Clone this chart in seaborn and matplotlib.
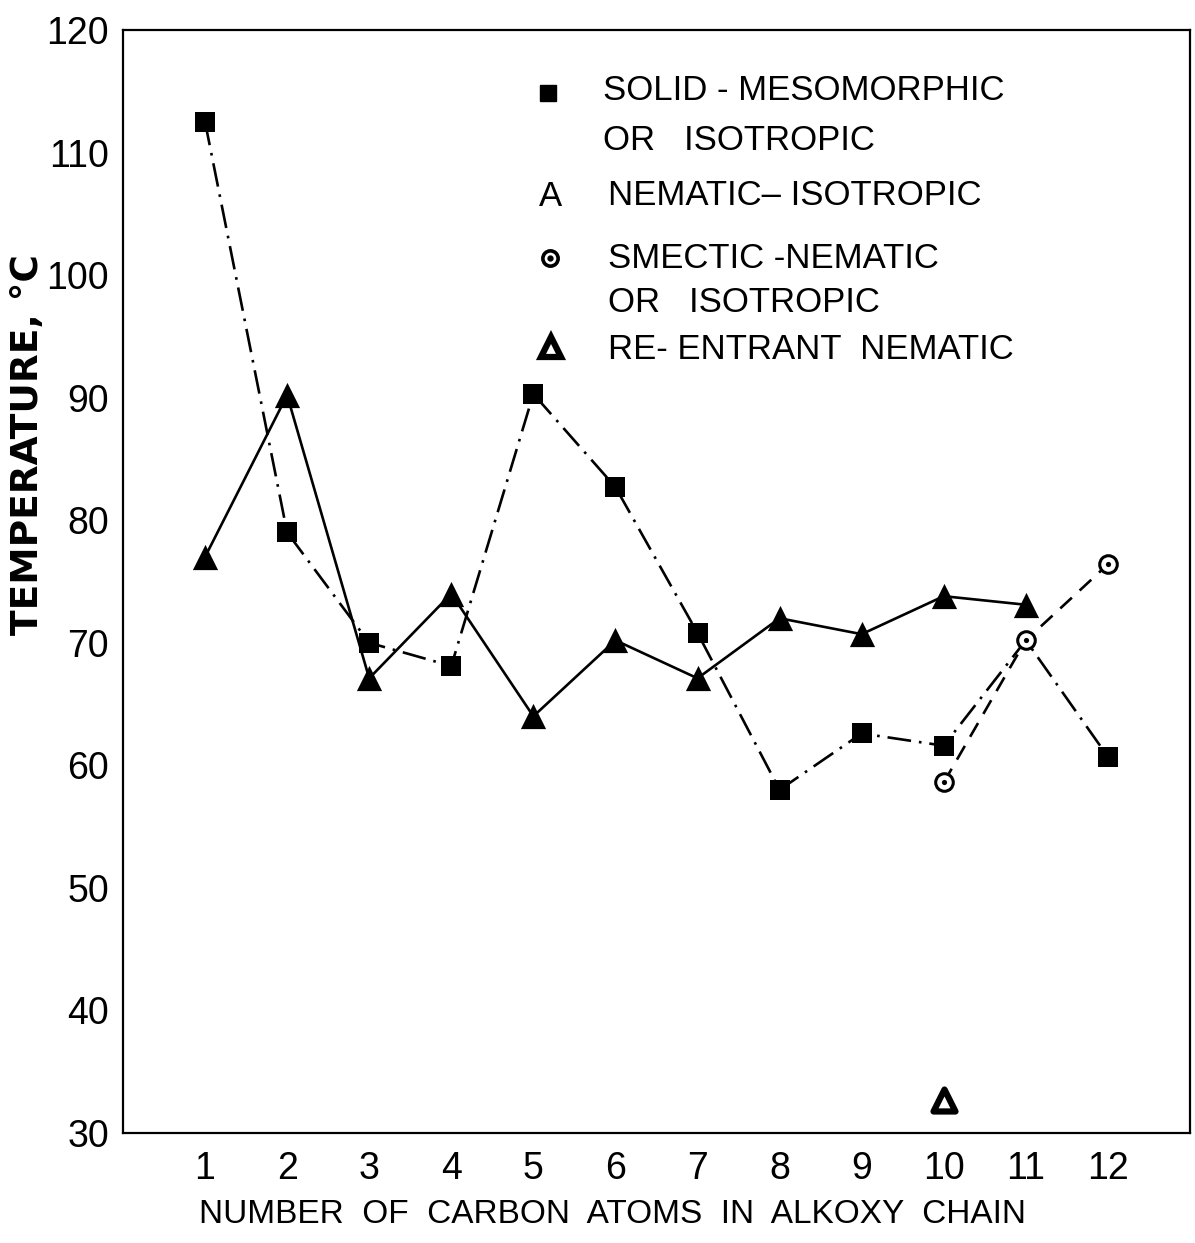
import numpy as np
import pandas as pd
import matplotlib
matplotlib.use("Agg")
import matplotlib.pyplot as plt
import seaborn as sns

# === Data ===
carbons = [1, 2, 3, 4, 5, 6, 7, 8, 9, 10, 11, 12]
solid_meso = [112.5, 79.0, 70.0, 68.1, 90.3, 82.7, 70.8, 58.0, 62.6, 61.6, 70.2, 60.7]
nem_iso_n = [1, 2, 3, 4, 5, 6, 7, 8, 9, 10, 11]
nem_iso = [77.0, 90.2, 67.1, 74.0, 64.0, 70.2, 67.1, 72.0, 70.7, 73.8, 73.1]
smectic_n = [10, 11, 12]
smectic = [58.6, 70.2, 76.4]
reentrant_n = [10]
reentrant = [32.7]
y_ticks = [30, 40, 50, 60, 70, 80, 90, 100, 110, 120]

df_solid = pd.DataFrame({"n": carbons, "T": solid_meso})
df_nem = pd.DataFrame({"n": nem_iso_n, "T": nem_iso})
df_sm = pd.DataFrame({"n": smectic_n, "T": smectic})
df_re = pd.DataFrame({"n": reentrant_n, "T": reentrant})

sns.set_theme(style="white", rc={"axes.edgecolor": "black", "text.color": "black",
                                 "xtick.color": "black", "ytick.color": "black",
                                 "axes.labelcolor": "black"})
plt.rcParams["font.family"] = ["Liberation Sans", "DejaVu Sans"]

fig = plt.figure(figsize=(11.95, 12.43), dpi=100)
ax = fig.add_axes([0.1029, 0.0885, 0.8929, 0.8874])

# === Lines ===
sns.lineplot(data=df_solid, x="n", y="T", ax=ax, color="black", linewidth=1.9,
             linestyle=(0, (9, 3, 1, 3)), estimator=None, sort=False)
sns.lineplot(data=df_nem, x="n", y="T", ax=ax, color="black", linewidth=1.9,
             estimator=None, sort=False)
sns.lineplot(data=df_sm, x="n", y="T", ax=ax, color="black", linewidth=1.9,
             linestyle=(0, (6, 4)), estimator=None, sort=False)

# === Markers (square at n=11 is hidden under the smectic circle) ===
sns.scatterplot(data=df_solid[df_solid["n"] != 11], x="n", y="T", ax=ax, marker="s",
                s=190, color="black", linewidth=0, zorder=4)
sns.scatterplot(data=df_nem, x="n", y="T", ax=ax, marker="^", s=330,
                color="black", linewidth=0, zorder=4)
sns.scatterplot(data=df_sm, x="n", y="T", ax=ax, marker="o", s=160,
                color="white", edgecolor="black", linewidth=2.2, zorder=5)
sns.scatterplot(data=df_sm, x="n", y="T", ax=ax, marker="o", s=14,
                color="black", linewidth=0, zorder=6)
sns.scatterplot(data=df_re, x="n", y="T", ax=ax, marker="^", s=250,
                color="white", edgecolor="black", linewidth=4.5, zorder=5)

# === Axes ===
ax.set_xlim(0, 13)
ax.set_ylim(30, 120)
ax.set_xticks(carbons)
ax.set_yticks(y_ticks)
ax.tick_params(axis="both", direction="in", width=1.8, labelsize=27)
ax.tick_params(axis="x", length=15, pad=13)
ax.tick_params(axis="y", length=13, pad=10)
for sp in ax.spines.values():
    sp.set_linewidth(1.6)
    sp.set_visible(True)

ax.set_xlabel("NUMBER  OF  CARBON  ATOMS  IN  ALKOXY  CHAIN", fontsize=24)
ax.xaxis.label.set_va("center")
ax.xaxis.set_label_coords(0.459, -0.074)
ax.set_ylabel("TEMPERATURE, °C", fontsize=27, fontweight="bold", family="DejaVu Sans")
ax.yaxis.label.set_va("center")
ax.yaxis.set_label_coords(-0.089, 0.624)

# === Legend block (hand placed, as in the original) ===
tr = ax.transAxes
fs = 25
ax.plot([0.398], [0.943], "s", ms=12, color="black", transform=tr, clip_on=False)
ax.text(0.450, 0.945, "SOLID - MESOMORPHIC", transform=tr, fontsize=fs, va="center")
ax.text(0.450, 0.900, "OR   ISOTROPIC", transform=tr, fontsize=fs, va="center")
ax.text(0.401, 0.849, "A", transform=tr, fontsize=fs, va="center", ha="center")
ax.text(0.4545, 0.8495, "NEMATIC\u2013 ISOTROPIC", transform=tr, fontsize=fs, va="center")
ax.plot([0.400], [0.793], "o", ms=11, mfc="white", mec="black", mew=2.6, transform=tr, clip_on=False)
ax.plot([0.400], [0.793], "o", ms=3.5, color="black", transform=tr, clip_on=False)
ax.text(0.4545, 0.793, "SMECTIC -NEMATIC", transform=tr, fontsize=fs, va="center")
ax.text(0.4545, 0.7525, "OR   ISOTROPIC", transform=tr, fontsize=fs, va="center")
ax.plot([0.401], [0.7126], "^", ms=14, mfc="white", mec="black", mew=4.5, transform=tr, clip_on=False)
ax.text(0.4545, 0.710, "RE- ENTRANT  NEMATIC", transform=tr, fontsize=fs, va="center")

fig.savefig("out.png", dpi=100)
